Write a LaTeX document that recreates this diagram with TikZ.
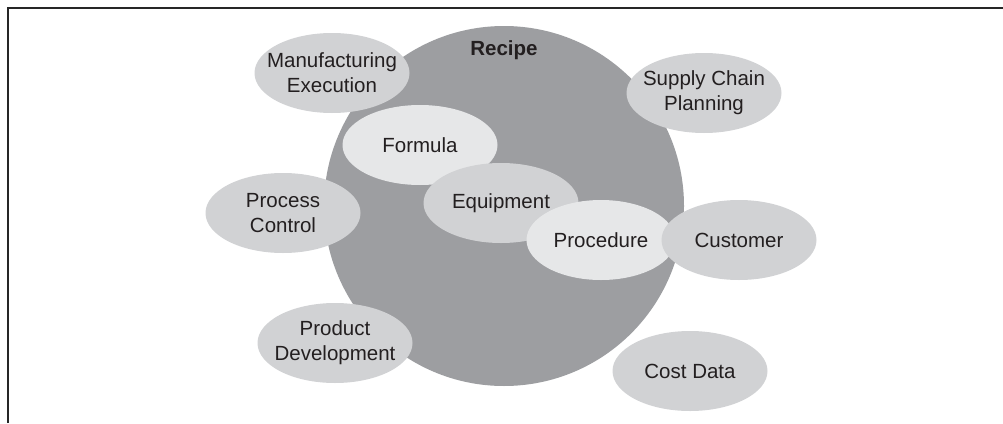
\documentclass[tikz,border=0pt]{standalone}
\usepackage{fontspec}
\setmainfont{Liberation Sans}
\usetikzlibrary{shapes.geometric}
\definecolor{recipeGrey}{HTML}{9D9EA1}
\definecolor{blobGrey}{HTML}{D1D2D4}
\definecolor{paleGrey}{HTML}{E6E7E8}
\definecolor{inkGrey}{HTML}{231F20}
\tikzset{
    every node/.style={font=\fontsize{20.5}{25}\selectfont, text=inkGrey},
    every label/.style={align=center, inner sep=0pt},
    outerblob/.style={fill=blobGrey, ellipse, inner sep=0pt, minimum width=155pt, minimum height=80pt},
    innerblob/.style={outerblob, fill=paleGrey},
    recipecircle/.style={fill=recipeGrey, circle, inner sep=0pt, minimum size=360pt},
    recipelabel/.style={font=\fontsize{20.5}{25}\selectfont\bfseries},
    frameline/.style={line width=1.2pt, draw=black!85},
}

\begin{document}
\begin{tikzpicture}[x=1pt, y=-1pt]
\useasboundingbox (0,0) rectangle (1003,423);

% open frame: only top and left edges
\coordinate (frameBL) at (8,423);
\coordinate (frameTL) at (8,8);
\coordinate (frameTR) at (1003,8);
\draw[frameline] (frameBL) -- (frameTL) -- (frameTR);

% the big recipe circle
\node[recipecircle] (recipe) at (504,206) {};
\node[recipelabel, anchor=base] (recipeLabel) at (504,55) {Recipe};

% systems around the recipe
\foreach \name/\x/\y/\text in {mes/332/73/{Manufacturing\\Execution},
                               scp/704/93/{Supply Chain\\Planning},
                               pc/283/213/{Process\\Control},
                               pd/335/343/{Product\\Development},
                               cost/690/371/{Cost Data}}{
  \node[outerblob, label={center:{\text}}] (\name) at (\x,\y) {};
}

% recipe parts
\node[innerblob, label=center:Formula] (formula) at (420,145) {};
\node[outerblob, label=center:Equipment] (equipment) at (501,203) {};
\node[innerblob, minimum width=149pt, label=center:Procedure] (procedure) at (601,240) {};

% customer sits over the procedure
\node[outerblob, label=center:Customer] (customer) at (739,240) {};

\end{tikzpicture}
\end{document}
